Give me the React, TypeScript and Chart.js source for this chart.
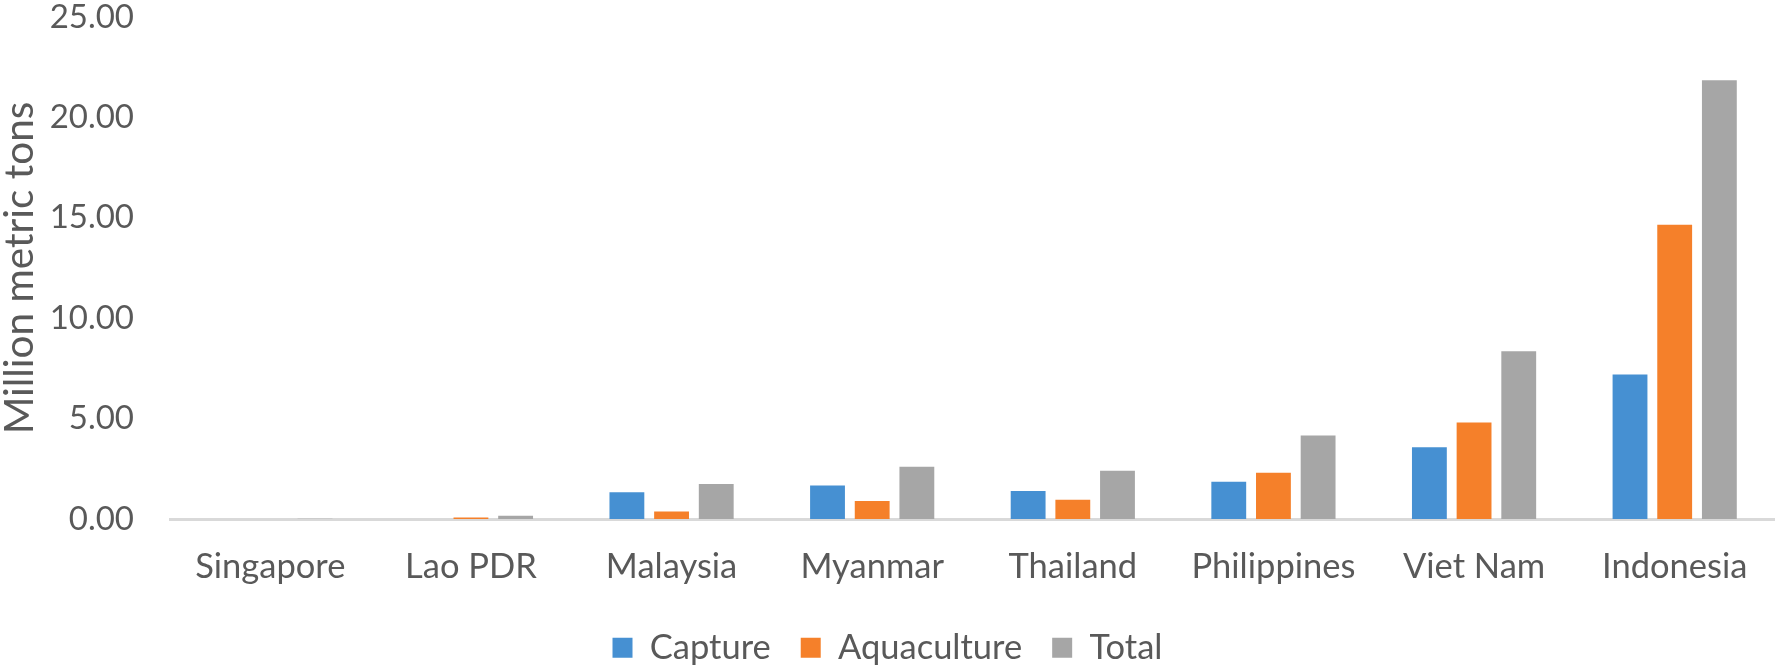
import React, { useEffect, useRef } from "react";
import { Chart, registerables } from "chart.js";

Chart.register(...registerables);

const categories = ["Singapore", "Lao PDR", "Malaysia", "Myanmar", "Thailand", "Philippines", "Viet Nam", "Indonesia"];
const captureValues = [0.002, 0, 1.33, 1.67, 1.4, 1.86, 3.57, 7.2];
const aquacultureValues = [0.005, 0.08, 0.37, 0.9, 0.96, 2.3, 4.8, 14.65];
const totalValues = [0.007, 0.16, 1.74, 2.6, 2.4, 4.16, 8.35, 21.85];
const seriesNames = ["Capture", "Aquaculture", "Total"];
const seriesColors = ["#4690D2", "#F5802A", "#A6A6A6"];
const yTickValues = [0, 5, 10, 15, 20, 25];

const TEXT = "#595959";
const FONT = "Lato, 'Noto Sans', sans-serif";

export default function App() {
  const ref = useRef<HTMLCanvasElement | null>(null);

  useEffect(() => {
    if (!ref.current) return;
    const chart = new Chart(ref.current, {
      type: "bar",
      data: {
        labels: categories,
        datasets: [captureValues, aquacultureValues, totalValues].map((d, i) => ({
          label: seriesNames[i],
          data: d,
          backgroundColor: seriesColors[i],
          borderWidth: 0,
          categoryPercentage: 0.668,
          barPercentage: 0.78,
        })),
      },
      options: {
        animation: false,
        responsive: false,
        devicePixelRatio: 1,
        layout: { padding: { top: 17, right: 0, left: 0, bottom: 0 } },
        plugins: {
          tooltip: { enabled: false },
          legend: {
            position: "bottom",
            labels: {
              color: TEXT,
              font: { family: FONT, size: 34.5 },
              boxWidth: 20,
              boxHeight: 20,
              padding: 30,
            },
          },
        },
        scales: {
          x: {
            grid: { display: false, drawTicks: false },
            border: { display: true, color: "#D9D9D9", width: 3 },
            ticks: { color: TEXT, font: { family: FONT, size: 34.5 }, padding: 27, maxRotation: 0 },
            afterFit: (scale: any) => {
              scale.height = 81.5;
            },
          },
          y: {
            min: 0,
            max: 25,
            afterBuildTicks: (scale: any) => {
              scale.ticks = yTickValues.map((v) => ({ value: v }));
            },
            grid: { display: false, drawTicks: true, tickLength: 36 },
            border: { display: false },
            ticks: {
              color: TEXT,
              font: { family: FONT, size: 33, lineHeight: 1 },
              padding: 0,
              callback: (v: any) => Number(v).toFixed(2),
            },
            title: {
              display: true,
              text: "Million metric tons",
              color: TEXT,
              font: { family: FONT, size: 40.5, lineHeight: 1 },
              padding: { top: 0, bottom: 0 },
            },
            afterFit: (scale: any) => {
              scale.width = 170;
            },
          },
        },
      },
    });
    return () => chart.destroy();
  }, []);

  return (
    <div style={{ position: "fixed", left: 0, top: 0, width: 1775, height: 667, overflow: "hidden", background: "#fff" }}>
      <canvas ref={ref} width={1775} height={675} style={{ width: 1775, height: 675, display: "block" }} />
    </div>
  );
}
